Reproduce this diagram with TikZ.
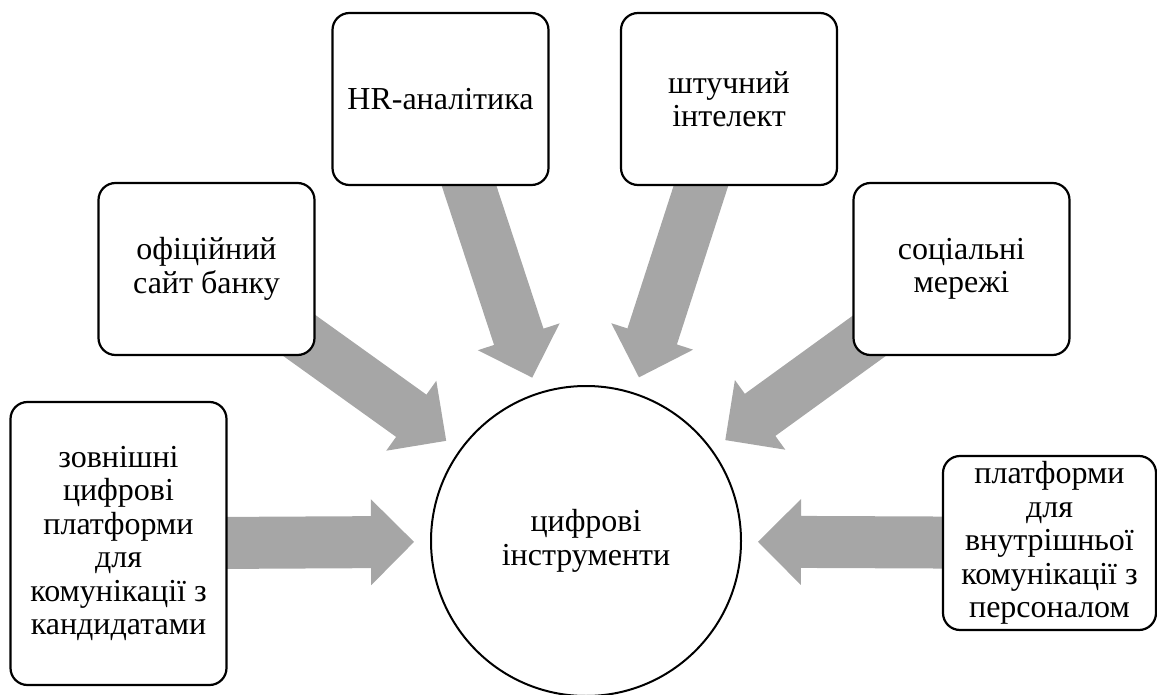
\documentclass[tikz,border=0pt]{standalone}
\usepackage{fontspec}
\setmainfont{Liberation Serif}
\usetikzlibrary{calc,backgrounds}

\definecolor{arrowfill}{HTML}{A6A6A6}

\tikzset{
  item/.style={draw, fill=white, line width=2.2pt, rounded corners=17pt,
               align=center, inner sep=0pt, minimum width=216pt, minimum height=172pt,
               font=\fontsize{32}{33.5}\selectfont},
  hub/.style={draw, fill=white, circle, line width=2pt, minimum size=310pt,
              inner sep=0pt, align=center, font=\fontsize{32}{33.5}\selectfont}
}

% block arrow from box #1 towards hub #2
\newcommand{\radarrow}[2]{%
  \coordinate (tip) at ($(#2.center)!172pt!(#1.center)$);
  \coordinate (hb) at ($(tip)!43pt!(#1.center)$);
  \fill[arrowfill] ($(#1.center)!26pt!90:(tip)$) -- ($(hb)!26pt!90:(tip)$)
    -- ($(hb)!43pt!90:(tip)$) -- (tip) -- ($(hb)!43pt!-90:(tip)$)
    -- ($(hb)!26pt!-90:(tip)$) -- ($(#1.center)!26pt!-90:(tip)$) -- cycle;
}

\begin{document}
\begin{tikzpicture}[x=1pt,y=-1pt]
  \useasboundingbox (0,0) rectangle (1157,695);

  \node[hub] (tools) at (586,541) {цифрові\\інструменти};

  \node[item, minimum height=283pt] (ext) at (118.5,543.5)
    {зовнішні\\цифрові\\платформи\\для\\комунікації з\\кандидатами};
  \node[item] (site) at (206.5,269) {офіційний\\сайт банку};
  \node[item] (hr) at (440.5,99) {HR-аналітика};
  \node[item] (ai) at (729,99) {штучний\\інтелект};
  \node[item] (social) at (961.5,269) {соціальні\\мережі};
  \node[item, minimum width=213pt, minimum height=174pt] (int) at (1049.5,543)
    {платформи\\для\\внутрішньої\\комунікації з\\персоналом};

  \begin{pgfonlayer}{background}
    \foreach \src in {ext,site,hr,ai,social,int}
      \radarrow{\src}{tools};
  \end{pgfonlayer}
\end{tikzpicture}
\end{document}
